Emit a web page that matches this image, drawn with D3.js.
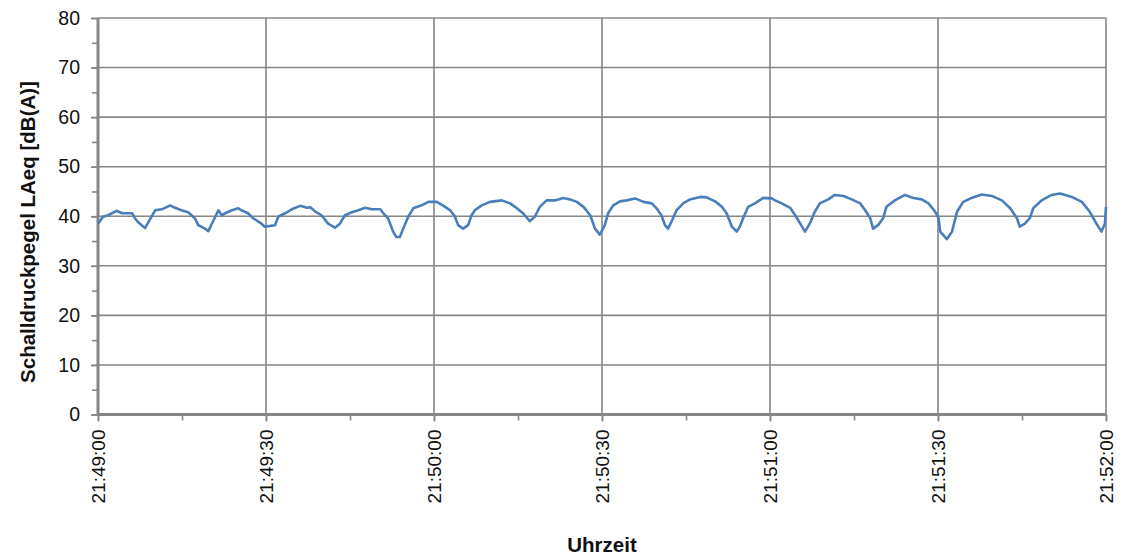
<!DOCTYPE html>
<html>
<head>
<meta charset="utf-8">
<script src="https://cdn.jsdelivr.net/npm/d3@7"></script>
<style>
  html, body { margin: 0; padding: 0; background: #fff; }
  svg { display: block; font-family: "Liberation Sans", Arial, sans-serif; }
</style>
</head>
<body>
<svg id="chart" width="1125" height="557"></svg>
<script>
// Measurement start time (21:49:00) and elapsed seconds of each reading
const startTime = [21, 49, 0];
const seconds = [
  0, 0.9, 1.8, 3.3, 4.3, 6.1, 6.6, 7.1, 8.4, 8.9, 10.2, 11.4, 12.9, 13.75, 14.9, 16.1, 17.3, 17.9,
  19.1, 19.7, 20.5, 21.5, 22.1, 22.7, 23.9, 25.05, 25.6, 26.8, 27.7, 29.2, 29.8, 31.6, 32.2, 33.4,
  34.6, 36.1, 37.3, 37.9, 38.75, 39.9, 41.1, 42.3, 43.2, 44.1, 45.3, 46.5, 47.7, 48.9, 50.4, 51.25,
  51.8, 52.7, 53.3, 53.9, 54.5, 55.4, 56.3, 57.8, 59.0, 60.5, 61.7, 62.9, 63.75, 64.3, 65.2, 66.1,
  66.7, 67.3, 68.5, 70.0, 72.1, 73.6, 74.8, 75.9, 77.1, 78.0, 78.9, 80.1, 81.6, 83.1, 84.3, 85.5,
  86.7, 87.9, 88.75, 89.6, 90.5, 91.1, 92.0, 93.2, 94.4, 95.9, 97.4, 98.9, 99.75, 100.6, 101.25,
  101.8, 102.4, 103.3, 104.5, 105.7, 107.5, 108.7, 110.2, 111.4, 112.25, 113.2, 114.05, 114.6,
  115.2, 116.1, 117.3, 118.8, 120.3, 120.9, 122.1, 123.6, 124.5, 125.4, 126.25, 127.1, 128.0,
  128.9, 130.4, 131.6, 133.1, 134.6, 136.1, 137.0, 137.9, 138.4, 139.3, 140.2, 140.8, 142.3,
  144.1, 145.6, 147.1, 148.3, 149.5, 150.1, 150.4, 151.6, 152.5, 153.4, 154.5, 156.0, 157.8,
  159.6, 161.4, 162.9, 164.1, 164.6, 165.5, 166.4, 167.0, 168.5, 170.3, 171.8, 173.9, 175.7,
  177.1, 178.3, 179.2, 179.8, 180
];
// A-weighted equivalent sound pressure level, dB(A)
const laeq = [
  38.5, 39.9, 40.2, 41.1, 40.6, 40.6, 39.6, 38.9, 37.6, 38.6, 41.2, 41.4, 42.2, 41.7, 41.2, 40.8, 39.6, 38.2,
  37.5, 37.0, 38.9, 41.2, 40.2, 40.6, 41.2, 41.6, 41.2, 40.6, 39.6, 38.5, 37.9, 38.2, 39.9, 40.6,
  41.4, 42.1, 41.7, 41.8, 41.0, 40.2, 38.5, 37.7, 38.5, 40.2, 40.8, 41.2, 41.7, 41.4, 41.4, 40.2,
  39.6, 36.9, 35.8, 35.8, 37.5, 39.9, 41.6, 42.2, 42.9, 42.9, 42.1, 41.2, 39.9, 38.2, 37.5, 38.2,
  40.2, 41.2, 42.2, 42.9, 43.2, 42.6, 41.6, 40.6, 39.0, 39.9, 41.9, 43.2, 43.2, 43.7, 43.4, 42.9,
  41.9, 40.2, 37.5, 36.3, 38.2, 40.6, 42.2, 43.0, 43.2, 43.6, 42.9, 42.6, 41.6, 40.2, 38.2,
  37.5, 38.9, 41.2, 42.6, 43.4, 43.9, 43.8, 43.0, 41.9, 40.6, 37.9, 36.9, 37.9,
  39.6, 41.9, 42.6, 43.7, 43.6, 43.2, 42.6, 41.7, 40.2, 38.5, 36.9, 38.5, 40.9,
  42.6, 43.4, 44.3, 44.1, 43.4, 42.6, 41.2, 39.6, 37.5, 38.2, 39.6, 41.9, 43.2,
  44.3, 43.7, 43.4, 42.6, 40.9, 39.6, 36.9, 35.4, 36.9, 40.9, 42.9, 43.7, 44.4,
  44.1, 43.2, 41.6, 39.6, 37.9, 38.5, 39.6, 41.6, 43.2, 44.3, 44.6, 43.9, 42.9,
  40.9, 38.5, 36.9, 38.5, 41.9
];
const yTicks = [0, 10, 20, 30, 40, 50, 60, 70, 80];
const yTitle = "Schalldruckpegel LAeq [dB(A)]";
const xTitle = "Uhrzeit";

const margin = { left: 98, top: 18, right: 19, bottom: 142.5 };
const W = 1125, H = 557;
const iw = W - margin.left - margin.right;
const ih = H - margin.top - margin.bottom;

const t0 = new Date(2000, 0, 1, startTime[0], startTime[1], startTime[2]);
const toDate = s => new Date(t0.getTime() + s * 1000);
const t1 = toDate(180);

const x = d3.scaleTime().domain([t0, t1]).range([0, iw]);
const y = d3.scaleLinear().domain([0, 80]).range([ih, 0]);

const svg = d3.select("#chart");
const g = svg.append("g").attr("transform", `translate(${margin.left},${margin.top})`);

const gridColor = "#868686";
const tickFont = "Liberation Sans, Arial, sans-serif";
const majorX = d3.range(0, 181, 30).map(toDate);
const minorX = d3.range(0, 181, 15).map(toDate);
const minorY = d3.range(0, 81, 5);

// gridlines
g.append("g").selectAll("line").data(yTicks.filter(v => v > 0)).join("line")
  .attr("x1", 0).attr("x2", iw).attr("y1", d => y(d)).attr("y2", d => y(d))
  .attr("stroke", gridColor).attr("stroke-width", 1.6);
g.append("g").selectAll("line").data(majorX.slice(1)).join("line")
  .attr("x1", d => x(d)).attr("x2", d => x(d)).attr("y1", 0).attr("y2", ih)
  .attr("stroke", gridColor).attr("stroke-width", 1.6);

// y axis with minor ticks
const yAxisMinor = d3.axisLeft(y).tickValues(minorY).tickSize(6).tickFormat("");
g.append("g").call(yAxisMinor)
  .call(s => s.select(".domain").remove())
  .selectAll("line").attr("stroke", gridColor).attr("stroke-width", 1.6);
const yAxis = d3.axisLeft(y).tickValues(yTicks).tickSize(7).tickPadding(11);
g.append("g").call(yAxis)
  .call(s => s.select(".domain").remove())
  .call(s => s.selectAll("line").attr("stroke", gridColor).attr("stroke-width", 1.6))
  .selectAll("text").attr("font-size", 19.5).attr("fill", "#111").attr("font-family", tickFont);

// x axis with minor ticks
const xAxisMinor = d3.axisBottom(x).tickValues(minorX).tickSize(6).tickFormat("");
g.append("g").attr("transform", `translate(0,${ih})`).call(xAxisMinor)
  .call(s => s.select(".domain").remove())
  .selectAll("line").attr("stroke", gridColor).attr("stroke-width", 1.6);
const xAxis = d3.axisBottom(x).tickValues(majorX).tickSize(7).tickFormat(d3.timeFormat("%H:%M:%S"));
const xg = g.append("g").attr("transform", `translate(0,${ih})`).call(xAxis)
  .call(s => s.select(".domain").remove())
  .call(s => s.selectAll("line").attr("stroke", gridColor).attr("stroke-width", 1.6));
xg.selectAll("text")
  .attr("font-size", 19).attr("fill", "#111").attr("font-family", tickFont)
  .attr("text-anchor", "end")
  .attr("dy", null).attr("y", null)
  .attr("transform", "translate(0,15) rotate(-90)")
  .attr("dominant-baseline", "central");

// axis lines
g.append("line").attr("x1", 0).attr("x2", 0).attr("y1", 0).attr("y2", ih)
  .attr("stroke", gridColor).attr("stroke-width", 3);
g.append("line").attr("x1", 0).attr("x2", iw).attr("y1", ih).attr("y2", ih)
  .attr("stroke", gridColor).attr("stroke-width", 3);

// measured level
const line = d3.line()
  .x((d, i) => x(toDate(seconds[i])))
  .y(d => y(d));
g.append("path").datum(laeq)
  .attr("d", line)
  .attr("fill", "none")
  .attr("stroke", "#4A7EBB")
  .attr("stroke-width", 2.6)
  .attr("stroke-linejoin", "round");

// titles
svg.append("text")
  .attr("x", margin.left + iw / 2).attr("y", 552)
  .attr("text-anchor", "middle")
  .attr("font-size", 20.5).attr("font-weight", "bold").attr("fill", "#111")
  .text(xTitle);
svg.append("text")
  .attr("transform", `translate(35,${232}) rotate(-90)`)
  .attr("text-anchor", "middle")
  .attr("font-size", 20.5).attr("font-weight", "bold").attr("fill", "#111")
  .text(yTitle);
</script>
</body>
</html>
